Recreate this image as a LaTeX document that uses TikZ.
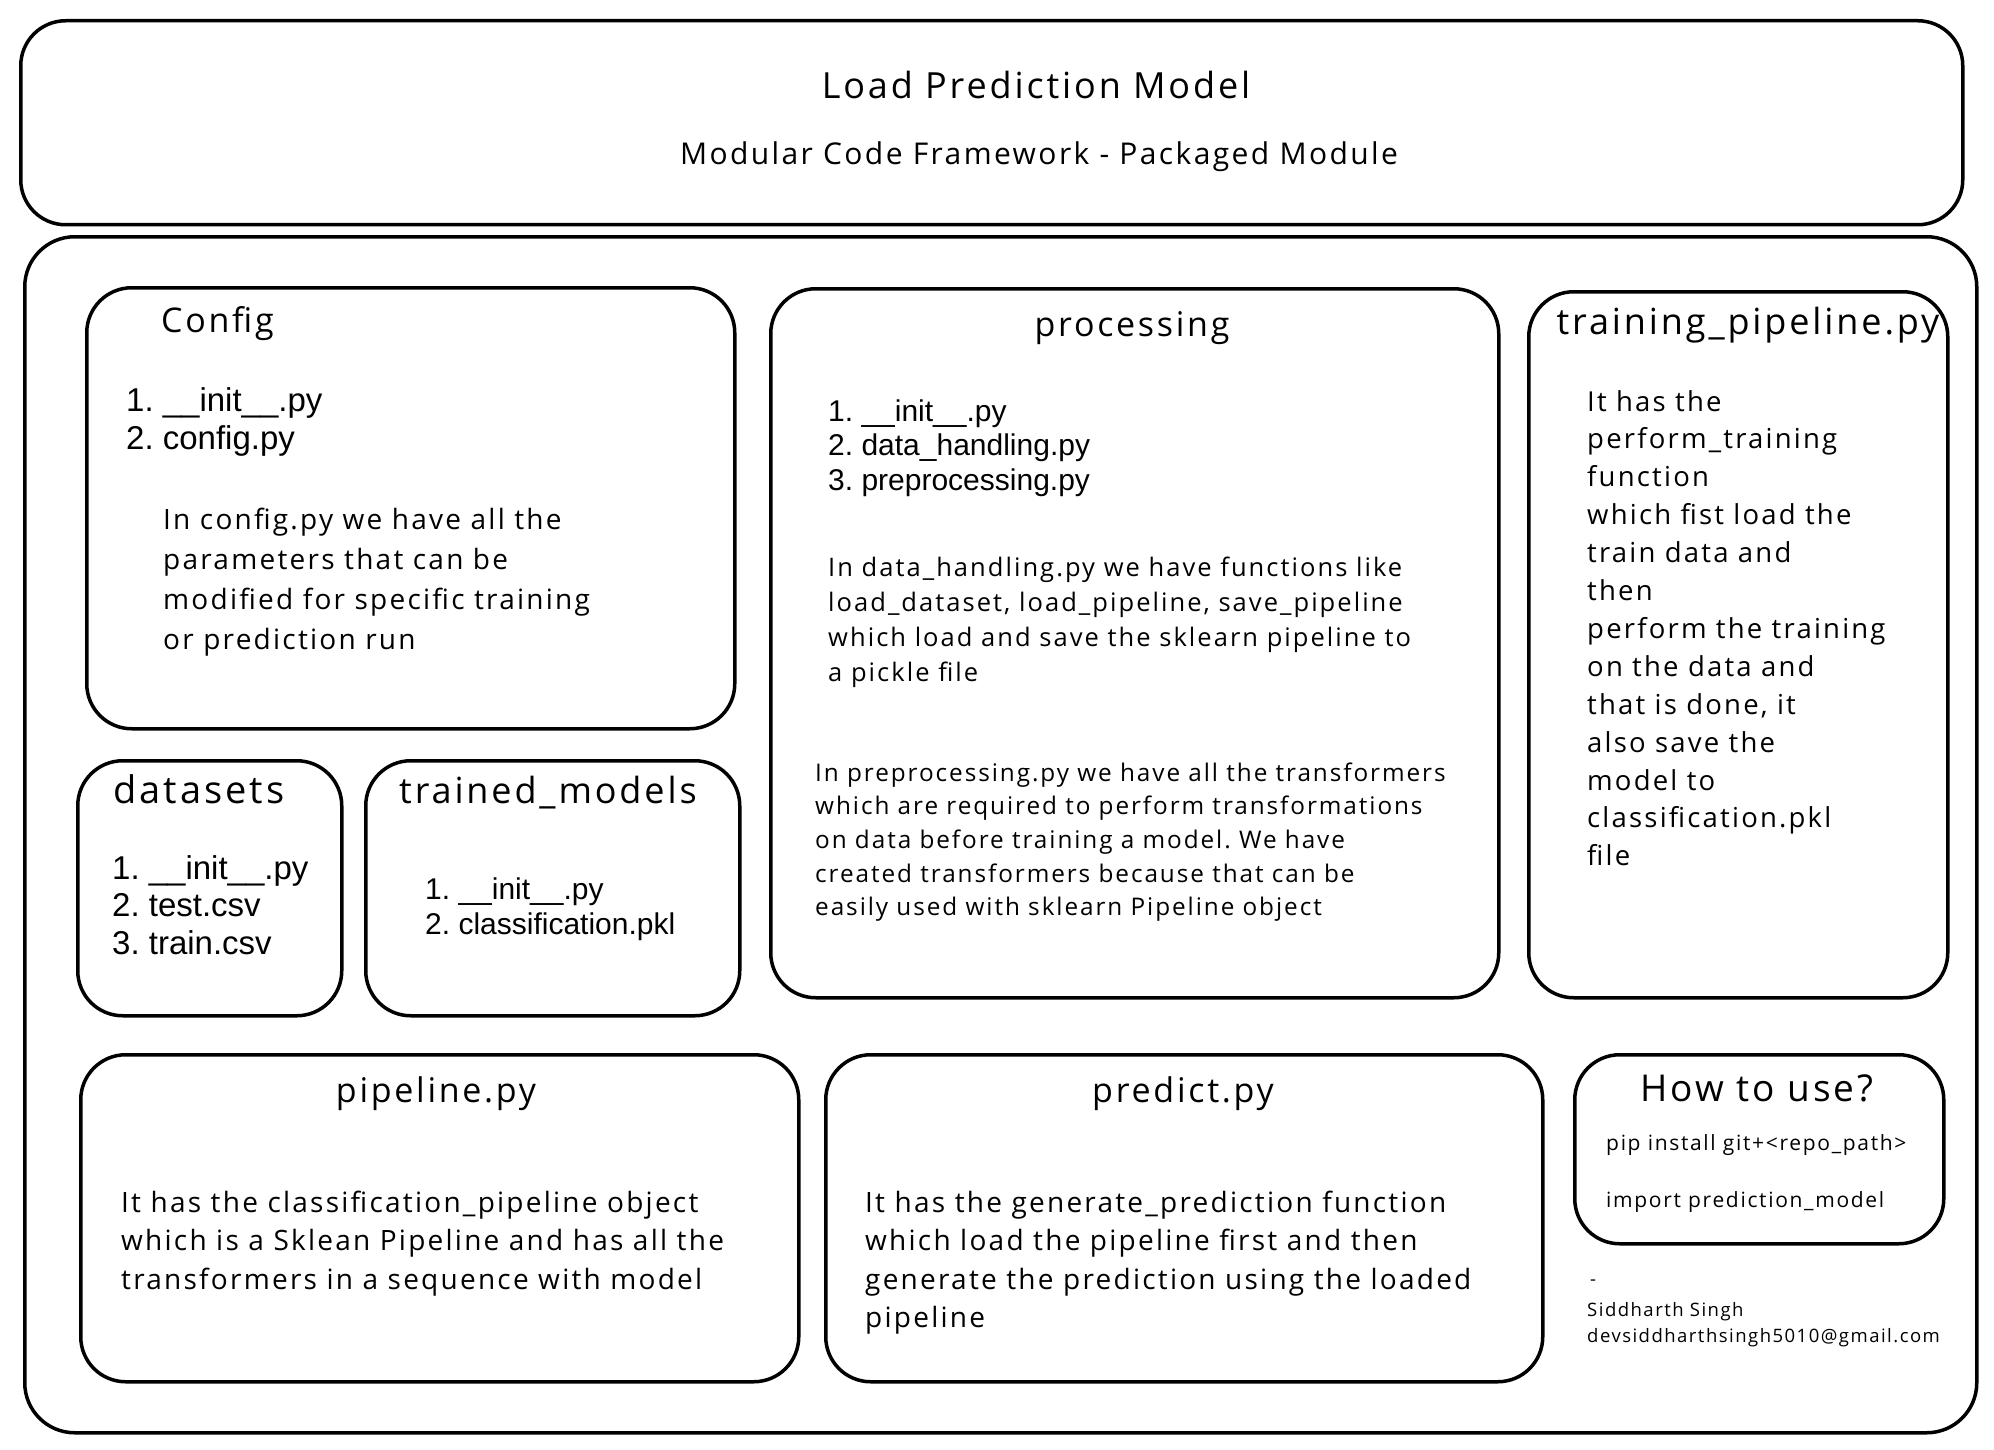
\documentclass[tikz,border=0pt]{standalone}
\usepackage{fontspec}
\setmainfont{Open Sans}[LetterSpace=8]
\newfontfamily\listfont{Liberation Sans}
\frenchspacing
\newcommand\hw[1]{\fontsize{#1}{#1}\selectfont}
\newcommand\lf[1]{\listfont\fontsize{#1}{#1}\selectfont}
\newcommand\txtlines[6]{%
  \foreach [count=\i] \t in {#6}
    \node[anchor=base west, inner sep=0pt, #5] (#1\i) at (#2, {#3+(\i-1)*#4}) {\t};%
}
\begin{document}
\begin{tikzpicture}[x=1pt, y=-1pt,
  box/.style={draw, line width=3.5pt, rounded corners=45pt, inner sep=0pt, anchor=north west},
  ttl/.style={inner sep=0pt, anchor=base, font=\hw{34}},
  para/.style={font=\hw{28}},
  small/.style={font=\hw{21}},
  lstbig/.style={font=\lf{33}},
  lstsm/.style={font=\lf{30}}]
\useasboundingbox (0,0) rectangle (1994,1450);
\fill[white] (0,0) rectangle (1994,1450);
% boxes
\node[box, minimum width=1942pt, minimum height=204pt] (titlebox) at (19,19) {};
\node[box, rounded corners=50pt, minimum width=1952pt, minimum height=1196pt] (mainbox) at (23,235) {};
\node[box, minimum width=648pt, minimum height=441pt] (config) at (85,286) {};
\node[box, minimum width=264pt, minimum height=255pt] (datasets) at (76,759) {};
\node[box, minimum width=374pt, minimum height=255pt] (trained) at (364,759) {};
\node[box, minimum width=728pt, minimum height=709pt] (processing) at (769,287) {};
\node[box, minimum width=419pt, minimum height=706pt] (training) at (1527,290) {};
\node[box, minimum width=718pt, minimum height=327pt] (pipeline) at (79,1053) {};
\node[box, minimum width=717pt, minimum height=327pt] (predict) at (824,1053) {};
\node[box, minimum width=369pt, minimum height=189pt] (howto) at (1573,1053) {};
% titles
\node[ttl, font=\hw{36}] (t1) at (1036,99) {Load Prediction Model};
\node[ttl, font=\hw{30}] (t2) at (1039,165) {Modular Code Framework - Packaged Module};
\node[ttl, anchor=base west] (configT) at (161,332) {Config};
\node[ttl, anchor=base west, font=\hw{38}] (datasetsT) at (113,803) {datasets};
\node[ttl, anchor=base west, font=\hw{36}] (trainedT) at (399,803) {trained\_models};
\node[ttl] (processingT) at (1132,336) {processing};
\node[ttl, font=\hw{36}] (trainingT) at (1748,334) {training\_pipeline.py};
\node[ttl] (pipelineT) at (436,1102) {pipeline.py};
\node[ttl] (predictT) at (1183,1102) {predict.py};
\node[ttl, font=\hw{37}] (howtoT) at (1757,1101) {How to use?};
% lists
\txtlines{cl}{126}{411}{38}{lstbig}{{1. \_\_init\_\_.py},{2. config.py}}
\txtlines{dl}{112}{879}{37.5}{lstbig}{{1. \_\_init\_\_.py},{2. test.csv},{3. train.csv}}
\txtlines{tl}{425}{899}{35}{lstsm}{{1. \_\_init\_\_.py},{2. classification.pkl}}
\txtlines{pl}{828}{421}{34.5}{lstsm}{{1. \_\_init\_\_.py},{2. data\_handling.py},{3. preprocessing.py}}
% paragraphs
\txtlines{cp}{163}{529}{40.3}{para}{{In config.py we have all the},{parameters that can be},{modified for specific training},{or prediction run}}
\txtlines{pa}{828}{576}{35.3}{font=\hw{25.5}}{{In data\_handling.py we have functions like},{load\_dataset, load\_pipeline, save\_pipeline},{which load and save the sklearn pipeline to},{a pickle file}}
\txtlines{pb}{815}{781}{33.7}{font=\hw{24.3}}{{In preprocessing.py we have all the transformers},{which are required to perform transformations},{on data before training a model. We have},{created transformers because that can be},{easily used with sklearn Pipeline object}}
\txtlines{tp}{1587}{411}{37.9}{font=\hw{27.5}}{{It has the},{perform\_training},{function},{which fist load the},{train data and},{then},{perform the training},{on the data and},{that is done, it},{also save the},{model to},{classification.pkl},{file}}
\txtlines{pp}{121}{1212}{38.5}{para}{{It has the classification\_pipeline object},{which is a Sklean Pipeline and has all the},{transformers in a sequence with model}}
\txtlines{pr}{865}{1212}{38.5}{para}{{It has the generate\_prediction function},{which load the pipeline first and then},{generate the prediction using the loaded},{pipeline}}
\txtlines{hu}{1606}{1150}{57}{small}{{pip install git+<repo\_path>},{import prediction\_model}}
\node[anchor=base west, inner sep=0pt, font=\hw{18.5}] (dash) at (1590,1285) {-};
\txtlines{sg}{1587}{1316}{26}{font=\hw{18.5}}{{Siddharth Singh},{devsiddharthsingh5010@gmail.com}}
\end{tikzpicture}
\end{document}
